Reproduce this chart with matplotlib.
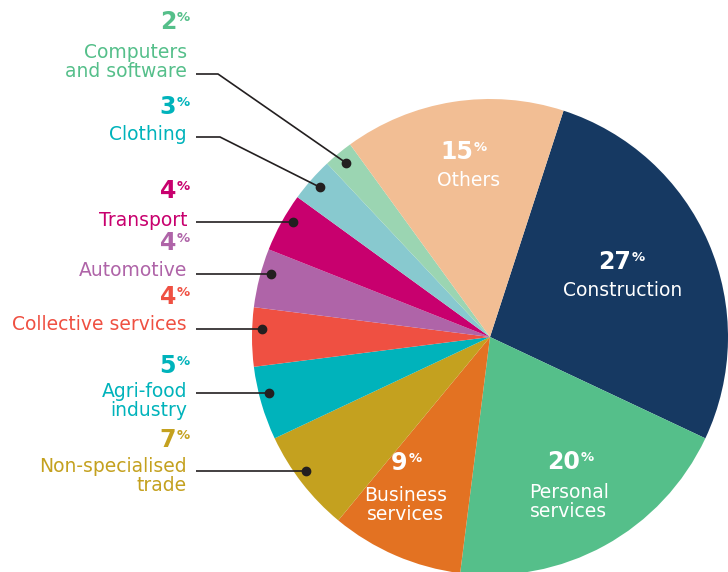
import matplotlib
matplotlib.use("Agg")
import matplotlib.pyplot as plt
import numpy as np

plt.rcParams['font.family'] = ['DejaVu Sans']

# data: share of companies by sector (%)
sectors = ['Construction', 'Personal\nservices', 'Business\nservices',
           'Non-specialised\ntrade', 'Agri-food\nindustry', 'Collective services',
           'Automotive', 'Transport', 'Clothing', 'Computers\nand software', 'Others']
shares = [27, 20, 9, 7, 5, 4, 4, 4, 3, 2, 15]
colors = ['#163962', '#55BF8A', '#E37222', '#C4A11F', '#00B3BB', '#EF5042',
          '#AF64A8', '#C8006E', '#88C9CF', '#9BD5B2', '#F2BE94']
label_colors = ['white', 'white', 'white', '#C4A11F', '#00B3BB', '#EF5042',
                '#AF64A8', '#C8006E', '#00B3BB', '#55BF8A', 'white']

# picture geometry in pixels
W, H = 728, 572
CX, CY, R = 490, 337, 238

def px(x, y):
    return ((x - CX) / R, (CY - y) / R)

fig = plt.figure(figsize=(W / 100, H / 100), dpi=100)
ax = fig.add_axes([0, 0, 1, 1])
wedges, _ = ax.pie(shares, colors=colors, startangle=72, counterclock=False,
                   radius=1, center=(0, 0),
                   wedgeprops=dict(linewidth=0))
ax.set_xlim(-CX / R, (W - CX) / R)
ax.set_ylim((CY - H) / R, CY / R)
ax.set_aspect('equal')
ax.axis('off')

label_size = 13.5
num_size = 17


def pct_text(x, y, value, color, ha):
    # number in bold plus a small raised % sign
    sup = 11
    if ha == 'right':
        nx = x - sup
    else:
        nx = x - sup / 2
    xd, yd = px(nx, y)
    num = ax.text(xd, yd, str(value), color=color, fontsize=num_size,
                  fontweight='bold', ha=ha, va='center')
    ax.annotate('%', xy=(1, 1), xycoords=num, xytext=(0.5, -0.5),
                textcoords='offset points', ha='left', va='top',
                color=color, fontsize=9.5, fontweight='bold')


# labels inside the pie: (pct x, pct y, label x, label y) in pixels
inner = {0: (620, 262, 623, 291), 1: (569, 462, 569, 502),
         2: (405, 463, 406, 505), 10: (462, 152, 469, 181)}
for i, (x1, y1, x2, y2) in inner.items():
    pct_text(x1, y1, shares[i], 'white', 'center')
    ax.text(*px(x2, y2), sectors[i], color='white', fontsize=label_size,
            ha='center', va='center', linespacing=1.05)

# labels on the left: (pct y, label y, leader y, elbow x or None)
outer = {9: (22, 62, 74, 218), 8: (107, 134, 137, 220), 7: (191, 220, 222, None),
         6: (243, 271, 274, None), 5: (297, 324, 329, None),
         4: (366, 401, 393, None), 3: (440, 476, 471, None)}
right = 187
theta = np.cumsum([0] + shares)
for i, (yp, yl, yline, elbow) in outer.items():
    c = label_colors[i]
    pct_text(right, yp, shares[i], c, 'right')
    ax.text(*px(right, yl), sectors[i], color=c, fontsize=label_size,
            ha='right', va='center', linespacing=1.05)
    if elbow is not None:
        mid = np.deg2rad(72 - 3.6 * (theta[i] + theta[i + 1]) / 2)
        dx, dy = 0.95 * np.cos(mid), 0.95 * np.sin(mid)
        xs = [px(right + 9, yline)[0], px(elbow, yline)[0], dx]
        ys = [px(right + 9, yline)[1], px(elbow, yline)[1], dy]
    else:
        yy = (CY - yline) / R
        dx = -np.sqrt(0.958 ** 2 - yy ** 2)
        dy = yy
        xs = [px(right + 9, yline)[0], dx]
        ys = [yy, yy]
    ax.plot(xs, ys, color='#231F20', lw=1.2, solid_capstyle='butt')
    ax.plot(dx, dy, 'o', color='#231F20', markersize=6)

fig.savefig('out.png', dpi=100)
